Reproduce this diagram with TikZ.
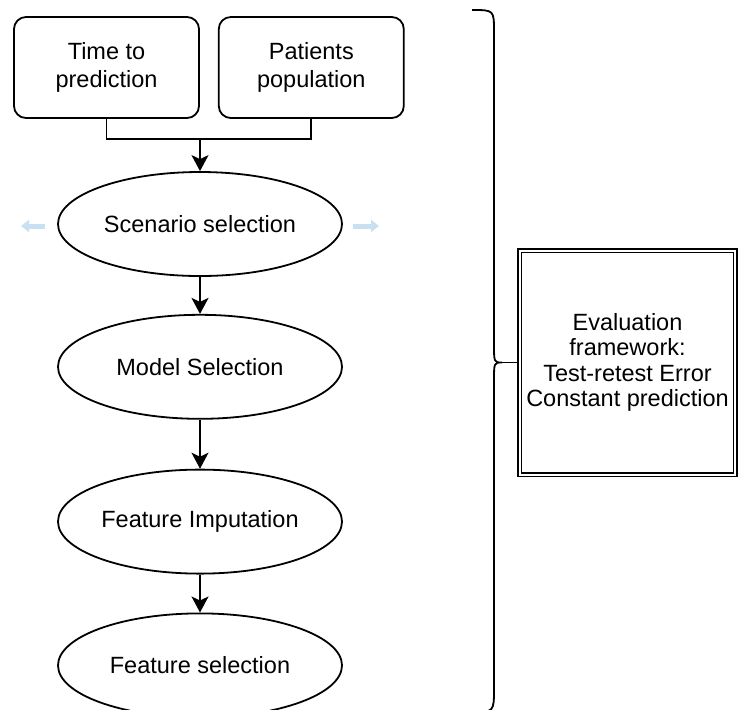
\documentclass[tikz,border=0pt]{standalone}
\usepackage{fontspec}
\setmainfont{Liberation Sans}
\usetikzlibrary{arrows.meta,positioning,shapes.geometric}
\definecolor{hintblue}{RGB}{200,224,242}
\tikzstyle{block} = [rectangle, draw, rounded corners=6pt, align=center,
    minimum width=92.5pt, minimum height=50.5pt, inner sep=0pt]
\tikzstyle{stage} = [ellipse, draw, minimum width=142pt, minimum height=52pt,
    inner sep=0pt]
\tikzstyle{evalbox} = [rectangle, draw, double, double distance=1pt,
    line width=0.75pt, align=center, minimum width=107pt, minimum height=112pt,
    font=\fontsize{11.75pt}{12.6pt}\selectfont]
\tikzstyle{hint} = [draw=hintblue, line width=2.5pt,
    -{Triangle[length=4pt,width=6pt]}]

\begin{document}
\begin{tikzpicture}[->,>={Stealth[length=8pt,width=8.5pt,inset=2pt]},
                    line width=0.9pt,node distance=19pt,x=0.5pt,y=-0.5pt,
                    font=\fontsize{11.75pt}{14pt}\selectfont]
  \useasboundingbox (0,0) rectangle (738,709);
  \clip (0,0) rectangle (738,709);

  \node[block] (time)                   at (106.5,67.5) {Time to\\prediction};
  \node[block] (pop)   [right=9pt of time]              {Patients\\population};
  \node[stage] (scen)                   at (200,224)    {Scenario selection};
  \node[stage] (model) [below=18.5pt of scen]           {Model Selection};
  \node[stage] (imput) [below=24.5pt of model]          {Feature Imputation};
  \node[stage] (fsel)  [below=19pt of imput]            {Feature selection};
  \node[evalbox] (eval)                 at (627.5,362.5)
       {Evaluation\\framework:\\Test-retest Error\\Constant prediction};

  % inputs join into one arrow
  \coordinate[above=16pt of scen] (join);
  \draw[-] (time.south) |- (join) -| (pop.south);
  \path (join)  edge (scen)
        (scen)  edge (model)
        (model) edge (imput)
        (imput) edge (fsel);

  % faint hover arrows
  \coordinate (hl1) at (45,226);  \coordinate (hl2) at (21,226);
  \coordinate (hr1) at (353,226); \coordinate (hr2) at (379,226);
  \draw[hint] (hl1) -- (hl2);
  \draw[hint] (hr1) -- (hr2);

  % brace over the whole pipeline
  \coordinate (brtip) at (502,362.5);
  \draw[-] (472,10) .. controls (494,10) .. (494,32) -- (494,344)
        .. controls (494,362.5) .. (brtip)
        .. controls (494,362.5) .. (494,381) -- (494,688)
        .. controls (494,712) .. (472,712);
  \draw[-] (brtip) -- (eval.west);
\end{tikzpicture}
\end{document}
